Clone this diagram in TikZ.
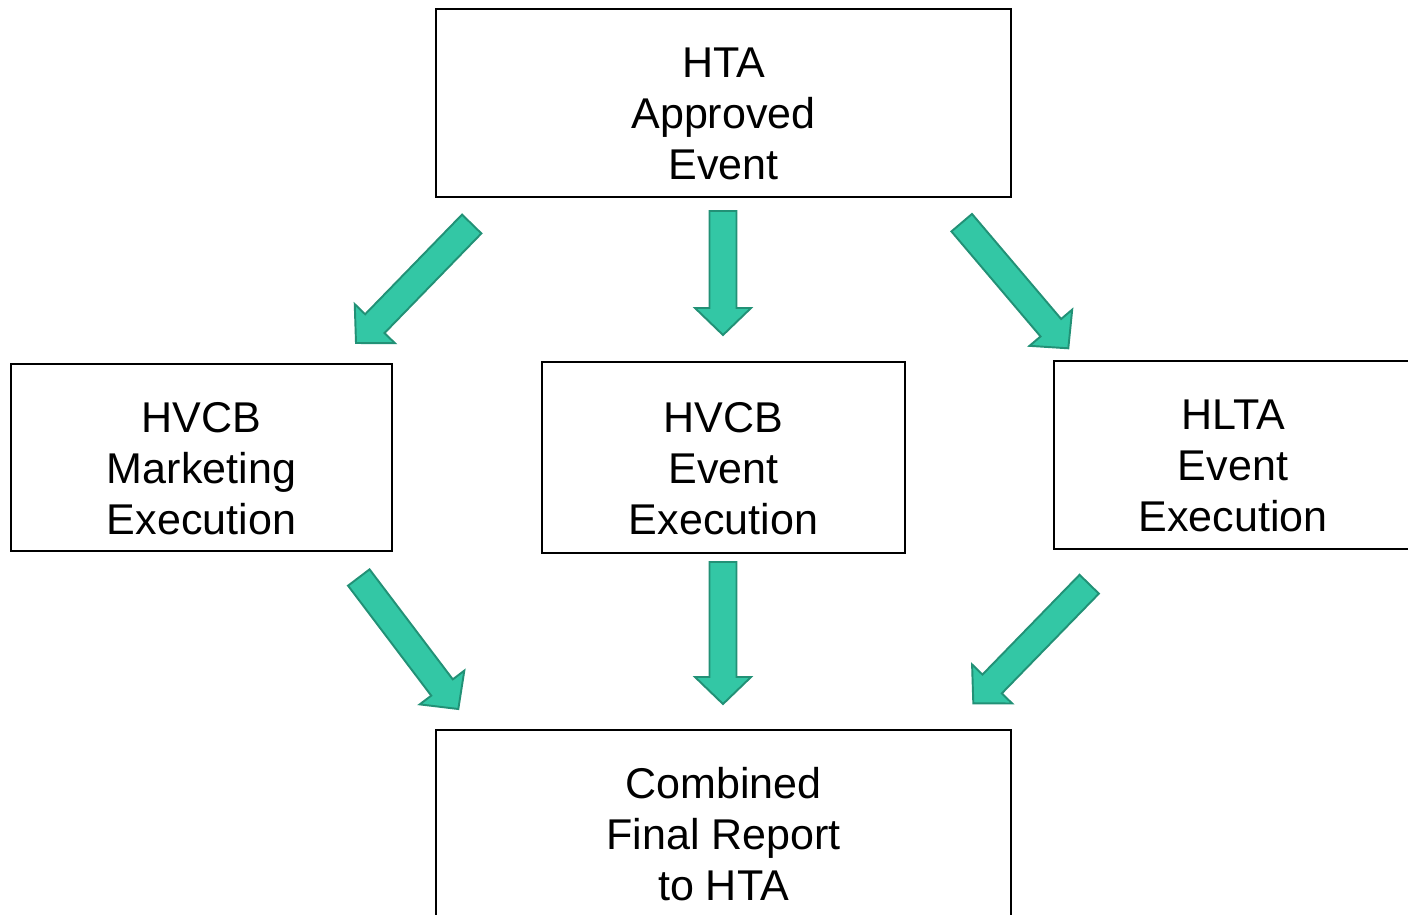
\documentclass[tikz,border=0pt]{standalone}
\usepackage{fontspec}
\setmainfont{Liberation Sans}
\usetikzlibrary{
    calc,
    positioning
}
\definecolor{arrowFill}{RGB}{51,199,165}
\definecolor{arrowEdge}{RGB}{34,145,118}
\tikzset{
  box/.style      = {draw, line width=1.2pt, minimum height=3.76cm,
                     align=center, inner sep=0pt, text height=3.08cm,
                     font=\fontsize{24.5}{29}\selectfont},
  bigarrow/.style = {fill=arrowFill, draw=arrowEdge, line width=1.1pt,
                     line join=miter}
}
% block arrow from a tail coordinate to a tip coordinate
\newcommand{\blockarrow}[2]{%
  \coordinate (#1-b) at ($(#2)!0.54cm!(#1)$);
  \draw[bigarrow] ($(#1)!0.27cm!90:(#2)$) -- ($(#1-b)!0.27cm!90:(#2)$)
    -- ($(#1-b)!0.56cm!90:(#2)$) -- (#2)
    -- ($(#1-b)!0.56cm!-90:(#2)$) -- ($(#1-b)!0.27cm!-90:(#2)$)
    -- ($(#1)!0.27cm!-90:(#2)$) -- cycle;
}

\begin{document}
\begin{tikzpicture}[x=0.02cm, y=-0.02cm]
  \useasboundingbox (0,0) rectangle (1408,914);
  \clip (0,0) rectangle (1408,914);

  % boxes
  \node[box, minimum width=11.5cm] (hta) at (723.5,103) {HTA\\Approved\\Event};
  \node[box, minimum width=7.26cm, minimum height=3.82cm, below=3.26cm of hta] (event) {HVCB\\Event\\Execution};
  \node[box, minimum width=7.62cm, minimum height=3.74cm, left=2.96cm of event] (mkt) {HVCB\\Marketing\\Execution};
  \node[box, minimum width=7.16cm, right=2.94cm of event, yshift=0.05cm] (hlta) {HLTA\\Event\\Execution};
  \node[box, minimum width=11.5cm, below=3.50cm of event] (report) {Combined\\Final Report\\to HTA};

  % arrow ends
  \coordinate (a1s) at (471.7,224);   \coordinate (a1e) at (356,343);
  \coordinate (a2s) at (723,211);     \coordinate (a2e) at (723,335);
  \coordinate (a3s) at (961.7,222.7); \coordinate (a3e) at (1068.3,348.3);
  \coordinate (a4s) at (358.8,577.5); \coordinate (a4e) at (458.3,709);
  \coordinate (a5s) at (723,562);     \coordinate (a5e) at (723,704);
  \coordinate (a6s) at (1089.2,584.2); \coordinate (a6e) at (973.3,703.3);

  \blockarrow{a1s}{a1e}
  \blockarrow{a2s}{a2e}
  \blockarrow{a3s}{a3e}
  \blockarrow{a4s}{a4e}
  \blockarrow{a5s}{a5e}
  \blockarrow{a6s}{a6e}
\end{tikzpicture}
\end{document}
